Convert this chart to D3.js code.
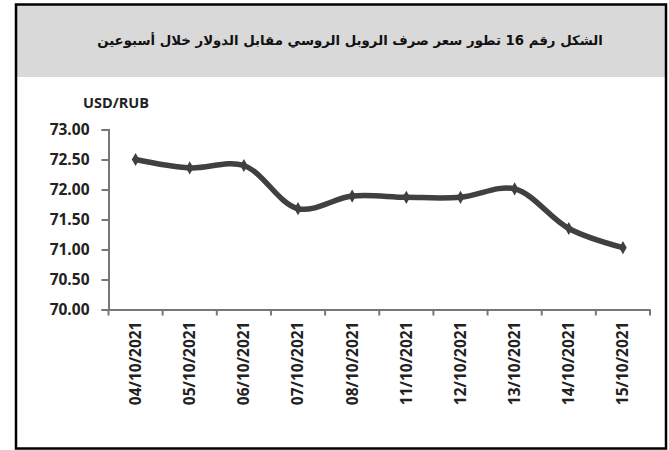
<!DOCTYPE html>
<html>
<head>
<meta charset="utf-8">
<script src="https://cdn.jsdelivr.net/npm/d3@7"></script>
<style>
  html, body { margin: 0; padding: 0; background: #fff; }
  svg { display: block; }
</style>
</head>
<body>
<script>
const title = "الشكل رقم 16 تطور سعر صرف الروبل الروسي مقابل الدولار خلال أسبوعين";
const unitLabel = "USD/RUB";
const dates = ["04/10/2021","05/10/2021","06/10/2021","07/10/2021","08/10/2021","11/10/2021","12/10/2021","13/10/2021","14/10/2021","15/10/2021"];
const rates = [72.50, 72.36, 72.40, 71.68, 71.89, 71.87, 71.87, 72.01, 71.35, 71.03];
const yTicks = [70.00, 70.50, 71.00, 71.50, 72.00, 72.50, 73.00];

const W = 669, H = 450;
const svg = d3.select("body").append("svg").attr("width", W).attr("height", H);

// header + frame
svg.append("rect").attr("x", 16).attr("y", 5).attr("width", 650).attr("height", 72).attr("fill", "#d9d9d9");
svg.append("rect").attr("x", 16).attr("y", 4.5).attr("width", 650).attr("height", 444)
  .attr("fill", "none").attr("stroke", "#000").attr("stroke-width", 2.5);

svg.append("text").attr("x", 350).attr("y", 45)
  .attr("text-anchor", "middle").attr("direction", "rtl")
  .attr("font-family", "'DejaVu Sans', sans-serif").attr("font-weight", "bold")
  .attr("font-size", 13.3).attr("fill", "#111").text(title);

const x = d3.scaleBand().domain(dates).range([108.5, 650]);
const y = d3.scaleLinear().domain([70, 73]).range([309.5, 129.5]);

const font = "'Open Sans', 'Noto Sans', sans-serif";

// y axis
const yAxis = svg.append("g").attr("transform", "translate(108.5,0)")
  .call(d3.axisLeft(y).tickValues(yTicks).tickFormat(d3.format(".2f")).tickSize(7).tickPadding(12));
yAxis.select(".domain").attr("stroke", "#777").attr("stroke-width", 2);
yAxis.selectAll(".tick line").attr("stroke", "#777").attr("stroke-width", 2);
yAxis.selectAll(".tick text").attr("font-family", font).attr("font-weight", "bold")
  .attr("font-size", 15.5).attr("fill", "#222");

// x axis
const xAxis = svg.append("g").attr("transform", "translate(0,309.5)")
  .call(d3.axisBottom(x).tickSize(0).tickSizeOuter(0));
xAxis.select(".domain").attr("stroke", "#777").attr("stroke-width", 2);
xAxis.selectAll(".tick text")
  .attr("font-family", font).attr("font-weight", "bold").attr("font-size", 15.5).attr("fill", "#222")
  .attr("transform", "rotate(-90)").attr("text-anchor", "end")
  .attr("x", -12).attr("y", 0).attr("dy", "0.35em");
// boundary ticks
const bounds = dates.map(d => x(d)).concat([x.range()[1]]);
xAxis.selectAll(".btick").data(bounds).enter().append("line")
  .attr("x1", d => d).attr("x2", d => d).attr("y1", 0).attr("y2", 6)
  .attr("stroke", "#777").attr("stroke-width", 2);

svg.append("text").attr("x", 83).attr("y", 108)
  .attr("font-family", font).attr("font-weight", "bold").attr("font-size", 14.5).attr("fill", "#222")
  .text(unitLabel);

const cx = d => x(d) + x.bandwidth() / 2;
const pts = dates.map((d, i) => [cx(d), y(rates[i])]);

svg.append("path").datum(pts)
  .attr("d", d3.line().curve(d3.curveCatmullRom.alpha(0.5)))
  .attr("fill", "none").attr("stroke", "#404040").attr("stroke-width", 5.5)
  .attr("stroke-linejoin", "round").attr("stroke-linecap", "round");

svg.append("g").selectAll("path").data(pts).enter().append("path")
  .attr("d", d3.symbol().type(d3.symbolDiamond).size(50))
  .attr("transform", d => `translate(${d[0]},${d[1]})`)
  .attr("fill", "#404040");
</script>
</body>
</html>
